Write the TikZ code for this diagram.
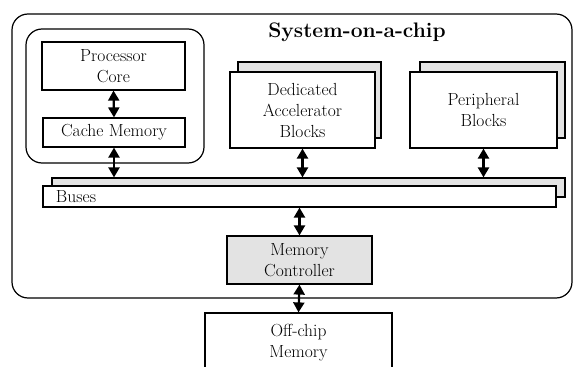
\documentclass[tikz,border=0pt]{standalone}
\usetikzlibrary{arrows.meta}

\begin{document}
\begin{tikzpicture}[x=1pt, y=-1pt, font=\fontsize{17.5}{21}\selectfont,
  blk/.style={draw, line width=1.2pt, fill=white, inner sep=0pt, align=center},
  shadowblk/.style={draw, line width=1.2pt, fill=gray!22, inner sep=0pt},
  grp/.style={draw, line width=1.2pt, rounded corners=16pt, inner sep=0pt},
  link/.style={line width=2.2pt, {Triangle[length=10pt,width=11pt]}-{Triangle[length=10pt,width=11pt]}}]

\useasboundingbox (0,0) rectangle (574,367);

% chip outline and title
\node[grp, minimum width=560pt, minimum height=284pt] (chip) at (292,156) {};
\node[font=\fontsize{21}{24}\selectfont\bfseries] (title) at (357,32) {System-on-a-chip};

% processor with its cache
\node[grp, minimum width=178pt, minimum height=134pt] (cpu) at (115,96) {};
\node[blk, minimum width=143pt, minimum height=48pt] (core) at (113.5,66) {Processor\\Core};
\node[blk, minimum width=142pt, minimum height=29pt] (cache) at (114,132.5) {Cache Memory};

% stacked blocks
\node[shadowblk, minimum width=143pt, minimum height=76pt] (accback) at (309.5,100) {};
\node[blk, minimum width=145pt, minimum height=76pt] (acc) at (302.5,110) {Dedicated\\Accelerator\\Blocks};
\node[shadowblk, minimum width=145pt, minimum height=76pt] (perback) at (492.5,100) {};
\node[blk, minimum width=147pt, minimum height=76pt] (per) at (483.5,110) {Peripheral\\Blocks};

% buses
\node[shadowblk, minimum width=513pt, minimum height=19pt] (busback) at (308.5,187.5) {};
\node[blk, minimum width=513pt, minimum height=21pt, text width=487pt, inner xsep=13pt, align=left] (bus) at (299.5,196.5) {Buses};

% memory side
\node[blk, fill=gray!22, minimum width=145pt, minimum height=48pt] (mc) at (299.5,260) {Memory\\Controller};
\node[blk, minimum width=187pt, minimum height=60pt] (mem) at (298.5,343) {Off-chip\\Memory};

% connections
\draw[link] (core.south) -- (cache.north);
\draw[link] (cache.south) -- (cache.south |- busback.north);
\draw[link] (acc.south) -- (acc.south |- busback.north);
\draw[link] (per.south) -- (per.south |- busback.north);
\draw[link] (mc.north |- bus.south) -- (mc.north);
\draw[link] (mc.south) -- (mem.north);

\end{tikzpicture}
\end{document}
